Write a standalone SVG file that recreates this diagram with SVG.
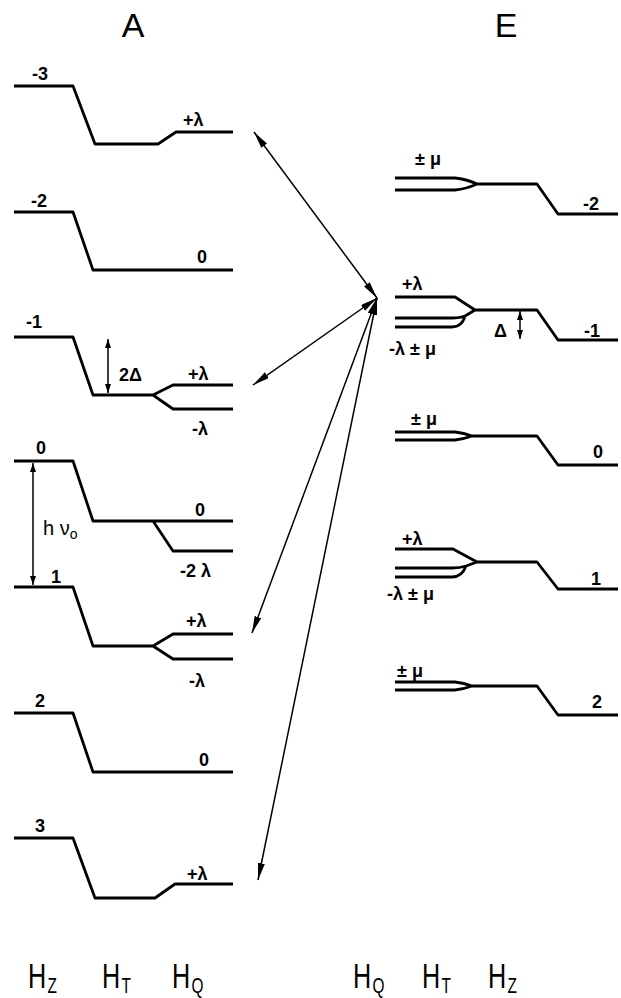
<svg xmlns="http://www.w3.org/2000/svg" width="621" height="998" viewBox="0 0 621 998">
<style>
.lv{fill:none;stroke:#000;stroke-width:2.8;stroke-linejoin:round;stroke-linecap:butt}
.ar{fill:none;stroke:#000;stroke-width:1.5}
.sm{fill:none;stroke:#000;stroke-width:1.5}
text{font-family:"Liberation Sans",Arial,sans-serif;fill:#000}
.lb{font-size:18px;font-weight:bold}
.big{font-size:34px}
.ax{font-size:36px}
</style>
<defs>
<marker id="ah" markerUnits="userSpaceOnUse" markerWidth="18" markerHeight="8" refX="17" refY="3.5" orient="auto-start-reverse">
<path d="M0,0 L17,3.5 L0,7 Z" fill="#000"/>
</marker>
<marker id="sh" markerUnits="userSpaceOnUse" markerWidth="10" markerHeight="6" refX="9" refY="3" orient="auto-start-reverse">
<path d="M0,0 L9,3 L0,6 Z" fill="#000"/>
</marker>
</defs>
<rect width="621" height="998" fill="#fff"/>
<text class="big" x="133" y="37" text-anchor="middle">A</text>
<text class="big" x="506" y="37" text-anchor="middle">E</text>

<g id="A-m-3">
<path class="lv" d="M14,86 L73,86 L95,144 L158,144 L176,132 L233,132"/>
<text class="lb" x="32" y="80">-3</text>
<text class="lb" x="183" y="126">+λ</text>
</g>
<g id="A-m-2">
<path class="lv" d="M14,212 L73,212 L93,270 L233,270"/>
<text class="lb" x="31" y="207">-2</text>
<text class="lb" x="197" y="263">0</text>
</g>
<g id="A-m-1">
<path class="lv" d="M14,337 L73,337 L93,395 L153,395 L173,385 L233,385 M153,395 L173,409 L233,409"/>
<text class="lb" x="26" y="328">-1</text>
<line class="sm" x1="108" y1="339" x2="108" y2="393" marker-start="url(#sh)" marker-end="url(#sh)"/>
<text class="lb" x="119" y="381">2Δ</text>
<text class="lb" x="188" y="380">+λ</text>
<text class="lb" x="192" y="435">-λ</text>
</g>
<g id="A-m0">
<path class="lv" d="M14,461 L73,461 L93,521 L233,521 M153,521 L173,551 L233,551"/>
<text class="lb" x="36" y="454">0</text>
<text class="lb" x="195" y="516">0</text>
<text class="lb" x="180" y="577">-2 λ</text>
</g>
<g id="hnu">
<line class="sm" x1="33" y1="463" x2="33" y2="585" marker-start="url(#sh)" marker-end="url(#sh)"/>
<text x="43" y="535" font-size="20">h ν<tspan font-size="14" dy="4">o</tspan></text>
</g>
<g id="A-m1">
<path class="lv" d="M14,587 L73,587 L93,646 L153,646 L173,634 L233,634 M153,646 L173,659 L233,659"/>
<text class="lb" x="51" y="583">1</text>
<text class="lb" x="186" y="627">+λ</text>
<text class="lb" x="189" y="687">-λ</text>
</g>
<g id="A-m2">
<path class="lv" d="M14,713 L73,713 L93,772 L233,772"/>
<text class="lb" x="35" y="707">2</text>
<text class="lb" x="199" y="766">0</text>
</g>
<g id="A-m3">
<path class="lv" d="M14,838 L73,838 L95,898 L155,898 L175,884 L233,884"/>
<text class="lb" x="35" y="832">3</text>
<text class="lb" x="187" y="880">+λ</text>
</g>

<g id="E-m-2">
<path class="lv" d="M395,178 L455,178 Q466,179 477,184 M395,190 L455,190 Q466,189 477,184 L537,184 L558,214 L618,214"/>
<text class="lb" x="415" y="165">± μ</text>
<text class="lb" x="583" y="210">-2</text>
</g>
<g id="E-m-1">
<path class="lv" d="M395,297 L455,297 L475,310 L537,310 L558,340 L618,340 M395,318 L452,318 Q460,318 465,316 L475,310 M395,327 L452,327 Q462,327 465,316"/>
<text class="lb" x="402" y="290">+λ</text>
<text class="lb" x="494" y="337">Δ</text>
<line class="sm" x1="520" y1="311" x2="520" y2="339" marker-start="url(#sh)" marker-end="url(#sh)"/>
<text class="lb" x="584" y="337">-1</text>
<text class="lb" x="389" y="355">-λ ± μ</text>
</g>
<g id="E-m0">
<path class="lv" d="M395,432 L455,432 Q464,433 472,436 M395,440 L455,440 Q464,439 472,436 L537,436 L558,465 L618,465"/>
<text class="lb" x="411" y="425">± μ</text>
<text class="lb" x="593" y="458">0</text>
</g>
<g id="E-m1">
<path class="lv" d="M395,549 L453,549 L477,562 L537,562 L558,589 L618,589 M395,568 L452,568 Q460,568 466,566 L477,562 M395,577 L452,577 Q462,577 466,566"/>
<text class="lb" x="402" y="545">+λ</text>
<text class="lb" x="591" y="585">1</text>
<text class="lb" x="387" y="600">-λ ± μ</text>
</g>
<g id="E-m2">
<path class="lv" d="M395,682 L455,682 Q464,683 472,686 M395,690 L455,690 Q464,689 472,686 L537,686 L558,715 L618,715"/>
<text class="lb" x="397" y="677">± μ</text>
<text class="lb" x="592" y="708">2</text>
</g>

<g id="connectors">
<line class="ar" x1="254" y1="132" x2="377" y2="298" marker-start="url(#ah)" marker-end="url(#ah)"/>
<line class="ar" x1="377" y1="298" x2="253" y2="385" marker-start="url(#ah)" marker-end="url(#ah)"/>
<line class="ar" x1="377" y1="298" x2="252" y2="633" marker-start="url(#ah)" marker-end="url(#ah)"/>
<line class="ar" x1="377" y1="298" x2="258" y2="880" marker-start="url(#ah)" marker-end="url(#ah)"/>
</g>

<g id="axis-labels">
<text class="ax" transform="translate(28,988) scale(0.7,1)">H<tspan font-size="22" dx="2" dy="5">Z</tspan></text>
<text class="ax" transform="translate(102,988) scale(0.7,1)">H<tspan font-size="22" dx="2" dy="5">T</tspan></text>
<text class="ax" transform="translate(172,988) scale(0.7,1)">H<tspan font-size="22" dx="2" dy="5">Q</tspan></text>
<text class="ax" transform="translate(353,988) scale(0.7,1)">H<tspan font-size="22" dx="2" dy="5">Q</tspan></text>
<text class="ax" transform="translate(422,988) scale(0.7,1)">H<tspan font-size="22" dx="2" dy="5">T</tspan></text>
<text class="ax" transform="translate(488,988) scale(0.7,1)">H<tspan font-size="22" dx="2" dy="5">Z</tspan></text>
</g>
</svg>
